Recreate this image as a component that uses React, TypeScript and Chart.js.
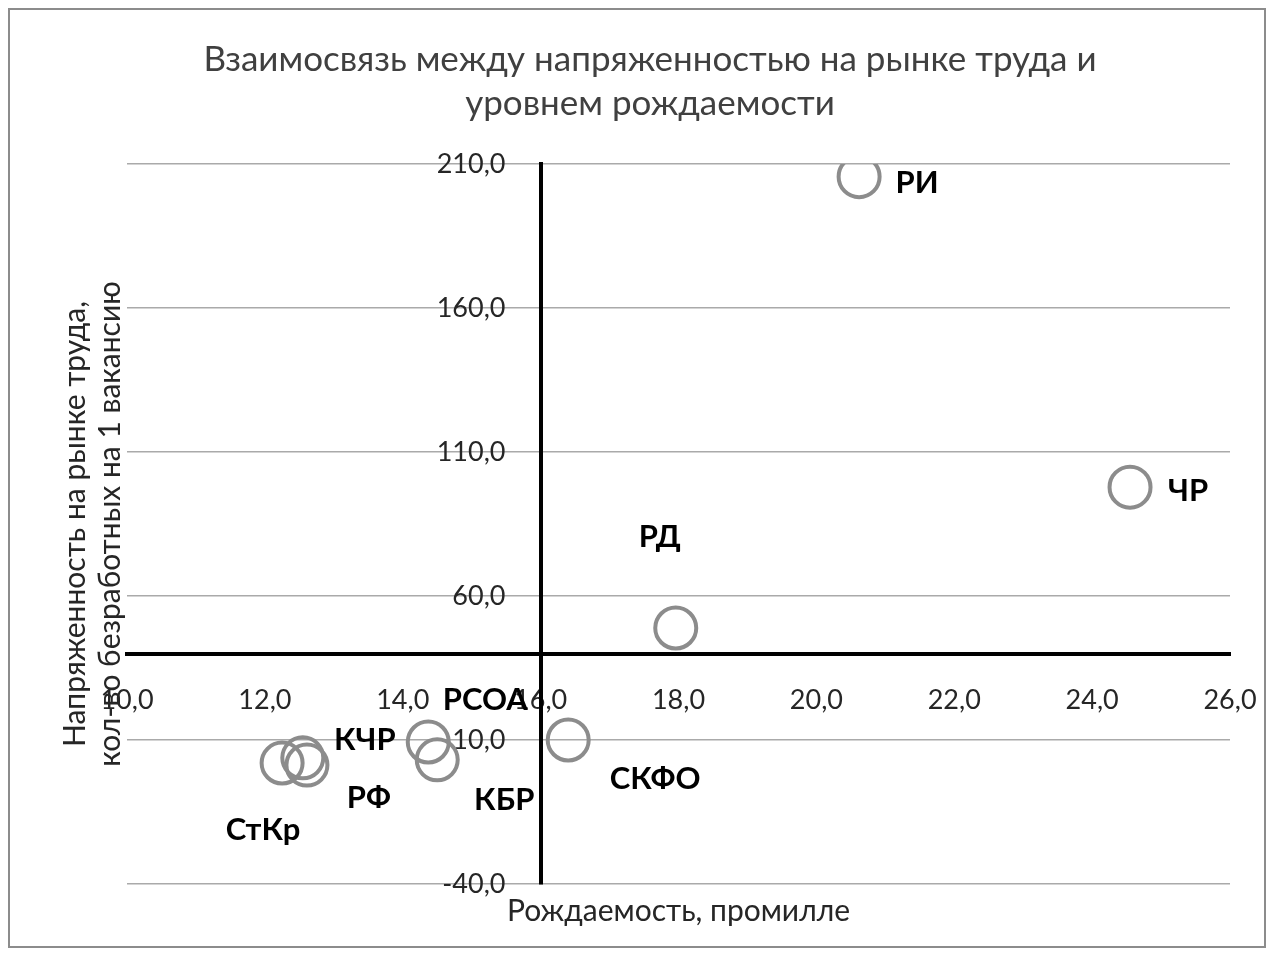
import React, { useEffect, useRef } from 'react';
import { Chart, registerables } from 'chart.js';

Chart.register(...registerables);

// ---- data ----
const REGIONS = ['РИ', 'ЧР', 'РД', 'СКФО', 'РСОА', 'КБР', 'КЧР', 'РФ', 'СтКр'];
const BIRTH_RATE = [20.62, 24.55, 17.96, 16.4, 14.37, 14.5, 12.55, 12.61, 12.25];
const TENSION = [205.6, 97.8, 48.9, 10.0, 9.3, 3.1, 3.8, 1.3, 2.0];
const X_TICKS = [10, 12, 14, 16, 18, 20, 22, 24, 26];
const Y_TICKS = [-40, 10, 60, 110, 160, 210];

const TITLE = ['Взаимосвязь между напряженностью на рынке труда и', 'уровнем рождаемости'];
const X_TITLE = 'Рождаемость, промилле';
const Y_TITLE = ['Напряженность на рынке труда,', 'кол-во безработных на 1 вакансию'];

// axis crossing values
const X_CROSS = 16;
const Y_CROSS = 40;
const Y_LABEL_X = 15.49; // where the y tick labels end

// label placement relative to each point (pixels)
const LABEL_OFFSETS: [number, number][] = [
  [58, 6], [58, 4], [-16, -91], [87, 39], [57, -42], [67, 40], [62, -18], [62, 33], [-19, 67],
];

const FONT = 'Lato';
const fmt = (v: number | string) => Number(v).toFixed(1).replace('.', ',');

const zeroPad = (s: any) => {
  s.paddingLeft = 0;
  s.paddingRight = 0;
  s.paddingTop = 0;
  s.paddingBottom = 0;
};

export default function App() {
  const ref = useRef<HTMLCanvasElement>(null);

  useEffect(() => {
    if (!ref.current) return;
    const labelPlugin = {
      id: 'pointLabels',
      afterDatasetsDraw(chart: any) {
        const ctx = chart.ctx;
        const meta = chart.getDatasetMeta(0);
        ctx.save();
        ctx.font = `bold 31px ${FONT}`;
        ctx.fillStyle = '#000';
        ctx.textAlign = 'center';
        ctx.textBaseline = 'middle';
        meta.data.forEach((el: any, i: number) => {
          const [dx, dy] = LABEL_OFFSETS[i];
          ctx.fillText(REGIONS[i], el.x + dx, el.y + dy);
        });
        ctx.restore();
      },
    };

    const tickFont = { family: FONT, size: 27 };
    const tickColor = '#262626';

    const chart = new Chart(ref.current, {
      type: 'scatter',
      data: {
        datasets: [
          {
            data: BIRTH_RATE.map((x, i) => ({ x, y: TENSION[i] })),
            pointRadius: 20.5,
            pointHoverRadius: 20.5,
            borderWidth: 4,
            pointBorderWidth: 4,
            borderColor: '#8c8c8c',
            backgroundColor: 'rgba(0,0,0,0)',
            pointStyle: 'circle',
          },
        ],
      },
      options: {
        responsive: false,
        animation: false,
        events: [],
        layout: { padding: { top: 0, right: 0, bottom: 0, left: 26 } },
        plugins: {
          legend: { display: false },
          tooltip: { enabled: false },
          title: {
            display: true,
            text: TITLE,
            color: '#404040',
            font: { family: FONT, size: 35, weight: 'normal', lineHeight: '44px' },
            padding: { top: 28, bottom: 38 },
          },
        },
        scales: {
          x: {
            type: 'linear',
            min: 10,
            max: 26,
            position: { y: Y_CROSS },
            afterBuildTicks: (s: any) => {
              s.ticks = X_TICKS.map((v) => ({ value: v }));
            },
            afterFit: (s: any) => {
              s.height = 0;
              zeroPad(s);
              s.paddingRight = 34;
            },
            grid: { display: false, drawTicks: false },
            border: { display: true, color: '#000', width: 4 },
            ticks: { padding: 30, font: tickFont, color: tickColor, callback: (v: any) => fmt(v), maxRotation: 0, autoSkip: false },
          },
          y: {
            type: 'linear',
            min: -40,
            max: 210,
            position: { x: X_CROSS },
            afterBuildTicks: (s: any) => {
              s.ticks = Y_TICKS.map((v) => ({ value: v }));
            },
            afterFit: (s: any) => {
              s.width = 0;
              zeroPad(s);
            },
            grid: { color: '#aaaaaa', lineWidth: 1.5, drawTicks: false },
            border: { display: true, color: '#000', width: 4 },
            ticks: { display: false },
          },
          yLabels: {
            type: 'linear',
            axis: 'y',
            min: -40,
            max: 210,
            position: { x: Y_LABEL_X },
            afterBuildTicks: (s: any) => {
              s.ticks = Y_TICKS.map((v) => ({ value: v }));
            },
            afterFit: (s: any) => {
              s.width = 0;
              zeroPad(s);
            },
            grid: { display: false, drawTicks: false },
            border: { display: false },
            ticks: { font: tickFont, color: tickColor, callback: (v: any) => fmt(v), autoSkip: false },
          },
          x2: {
            type: 'linear',
            min: 10,
            max: 26,
            position: 'bottom',
            afterFit: (s: any) => {
              s.height = 62;
              zeroPad(s);
            },
            grid: { display: false },
            border: { display: false },
            ticks: { display: false },
            title: {
              display: true,
              text: X_TITLE,
              color: '#262626',
              font: { family: FONT, size: 30, lineHeight: '30px' },
              padding: { top: 0, bottom: 20 },
            },
          },
          y2: {
            type: 'linear',
            min: -40,
            max: 210,
            position: 'left',
            afterFit: (s: any) => {
              s.width = 91;
              zeroPad(s);
            },
            grid: { display: false },
            border: { display: false },
            ticks: { display: false },
            title: {
              display: true,
              text: Y_TITLE,
              color: '#262626',
              font: { family: FONT, size: 30, lineHeight: '35px' },
              padding: { top: 21.5, bottom: 0 },
            },
          },
        },
      } as any,
      plugins: [labelPlugin],
    });
    return () => chart.destroy();
  }, []);

  return (
    <div style={{ width: 1254, height: 936, border: '2px solid #8c8c8c', background: '#fff' }}>
      <canvas ref={ref} width={1254} height={936} style={{ display: 'block' }} />
    </div>
  );
}
